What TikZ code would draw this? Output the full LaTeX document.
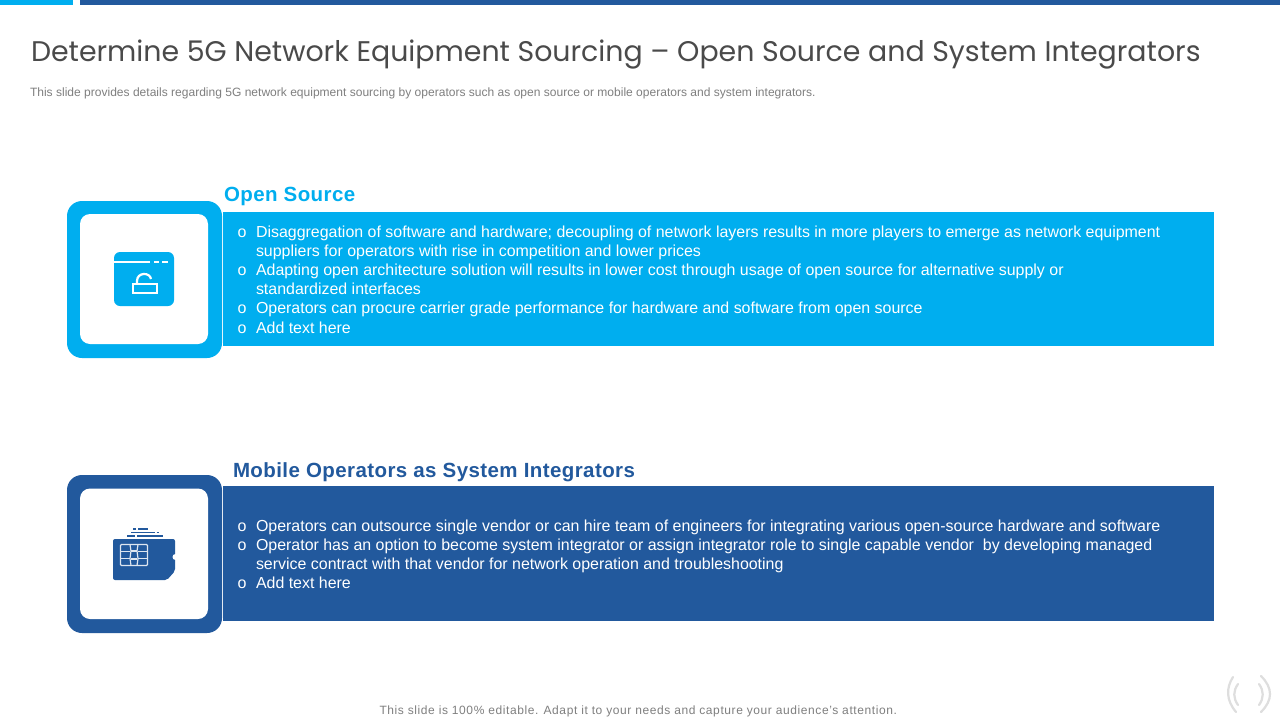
\documentclass[tikz,border=0pt]{standalone}
\usepackage{fontspec}
\setmainfont{Liberation Sans}
\newfontfamily\titlefont{Poppins}
\definecolor{cyanb}{HTML}{00AEEF}
\definecolor{darkb}{HTML}{22599D}
\definecolor{titleg}{HTML}{4A4A4A}
\definecolor{subg}{HTML}{7F7F7F}
\definecolor{arcg}{HTML}{DEDEDE}
\tikzset{
  txt/.style={anchor=base west,inner sep=0pt,outer sep=0pt},
  bodyline/.style={txt,text=white,font=\fontsize{15.95}{19}\selectfont},
  bul/.style={txt,text=white,font=\fontsize{16}{19}\selectfont},
  headline/.style={txt,font=\addfontfeature{LetterSpace=2}\fontsize{20.5}{24}\selectfont\bfseries},
  frameshape/.style={rounded corners=15pt},
  innershape/.style={fill=white,rounded corners=10pt},
  iconline/.style={draw=white,line width=2pt},
  simline/.style={draw=darkb,line width=1.3pt},
  chipline/.style={draw=white!85!darkb,line width=1.2pt},
  softarc/.style={draw=arcg,line width=2.2pt,line cap=round},
}
\begin{document}
\begin{tikzpicture}[x=1pt,y=-1pt]
\useasboundingbox (0,0) rectangle (1280,720);
\fill[white] (0,0) rectangle (1280,720);
% top bars
\fill[cyanb] (0,0) rectangle (73,5);
\fill[darkb] (80,0) rectangle (1280,5);
% title
\node[txt,text=titleg,font=\titlefont\fontsize{28.4}{32}\selectfont] (title) at (31,61) {Determine 5G Network Equipment Sourcing – Open Source and System Integrators};
\node[txt,text=subg,font=\fontsize{12.04}{14}\selectfont] (sub) at (30,96.5) {This slide provides details regarding 5G network equipment sourcing by operators such as open source or mobile operators and system integrators.};
% panel 1
\fill[cyanb] (222.5,212) rectangle (1214,346);
\fill[cyanb,frameshape] (67,201) rectangle (222,358);
\fill[innershape] (80,214) rectangle (208,344);
\node[headline,text=cyanb] (h1) at (224,201) {Open Source};
\node[bul] (o1) at (237.5,237) {o};
\node[bodyline] (a1) at (256,237) {Disaggregation of software and hardware; decoupling of network layers results in more players to emerge as network equipment};
\node[bodyline] (a2) at (256,256) {suppliers for operators with rise in competition and lower prices};
\node[bul] (o2) at (237.5,275) {o};
\node[bodyline] (a3) at (256,275) {Adapting open architecture solution will results in lower cost through usage of open source for alternative supply or};
\node[bodyline] (a4) at (256,294) {standardized interfaces};
\node[bul] (o3) at (237.5,313) {o};
\node[bodyline] (a5) at (256,313) {Operators can procure carrier grade performance for hardware and software from open source};
\node[bul] (o4) at (237.5,333) {o};
\node[bodyline] (a6) at (256,333) {Add text here};
% icon 1
\fill[cyanb,rounded corners=6pt] (114,252) rectangle (174,306);
\draw[iconline] (114,262) -- (150,262);
\draw[iconline] (154,262) -- (158.5,262);
\draw[iconline] (162,262) -- (168,262);
\draw[iconline,line width=2.2pt] (133,284) rectangle (157,293);
\draw[iconline,line width=2.2pt] (137,284) -- (137,281) .. controls (137,272) and (150,272) .. (151,279);
% panel 2
\fill[darkb] (222.5,486) rectangle (1214,621);
\fill[darkb,frameshape] (67,475) rectangle (222,633);
\fill[innershape] (80,488.5) rectangle (208,619);
\node[headline,text=darkb] (h2) at (233,477) {Mobile Operators as System Integrators};
\node[bul] (o5) at (237.5,531) {o};
\node[bodyline] (b1) at (256,531) {Operators can outsource single vendor or can hire team of engineers for integrating various open-source hardware and software};
\node[bul] (o6) at (237.5,550) {o};
\node[bodyline] (b2) at (256,550) {Operator has an option to become system integrator or assign integrator role to single capable vendor\ \ by developing managed};
\node[bodyline] (b3) at (256,569) {service contract with that vendor for network operation and troubleshooting};
\node[bul] (o7) at (237.5,588) {o};
\node[bodyline] (b4) at (256,588) {Add text here};
% icon 2
\fill[darkb,rounded corners=2pt] (113,539) -- (175,539) -- (175,571) -- (167,580) -- (113,580) -- cycle;
\fill[white] (175.5,557) circle (3pt);
\draw[simline] (133,529) -- (136,529);
\draw[simline] (138,529) -- (148,529);
\draw[simline] (131,532.5) -- (155,532.5);
\draw[simline] (156.5,532.5) -- (159,532.5);
\draw[simline] (127,536) -- (135,536);
\draw[simline] (137,536) -- (163,536);
\draw[chipline,rounded corners=1pt] (120.5,544.5) rectangle (147.5,565.5);
\draw[chipline] (120.5,551.5) -- (130,551.5);
\draw[chipline] (120.5,558.5) -- (130,558.5);
\draw[chipline] (138,551.5) -- (147.5,551.5);
\draw[chipline] (138,558.5) -- (147.5,558.5);
\draw[chipline] (130,544.5) -- (131,551) -- (130,558.5) -- (131,565.5);
\draw[chipline] (138,544.5) -- (137,551) -- (138,558.5) -- (137,565.5);
\draw[chipline] (131,551) -- (137,551);
\draw[chipline] (131,559) -- (137,559);
% footer
\node[txt,text=subg,font=\addfontfeature{LetterSpace=4.9}\fontsize{12}{14}\selectfont] (foot) at (379.5,714) {This slide is 100\% editable. Adapt it to your needs and capture your audience's attention.};
% corner marks
\draw[softarc] (1233,677) .. controls (1226,688) and (1226,700) .. (1236,712);
\draw[softarc] (1238,684) .. controls (1233,691) and (1233,698) .. (1238,705);
\draw[softarc] (1259,684) .. controls (1264,691) and (1264,698) .. (1259,705);
\draw[softarc] (1261,676) .. controls (1273,688) and (1273,700) .. (1261,712);
\end{tikzpicture}
\end{document}
